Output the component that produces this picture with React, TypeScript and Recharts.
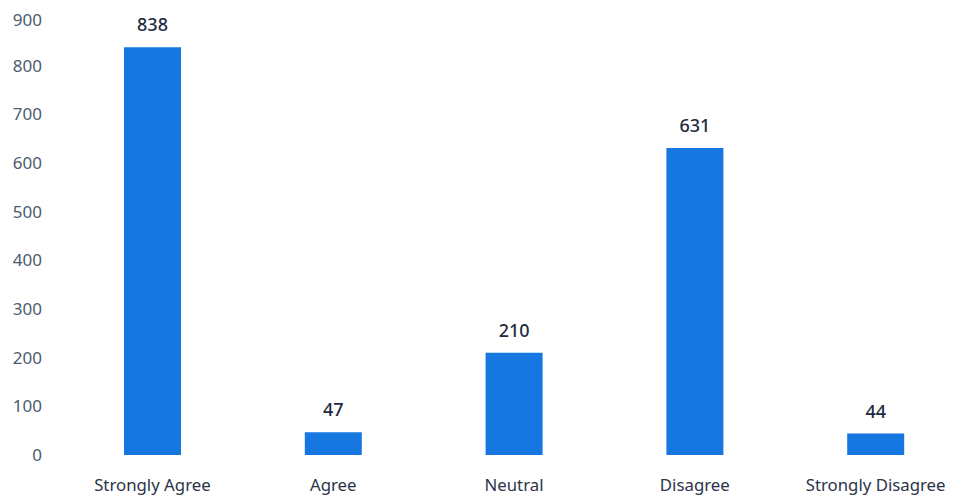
import React from "react";
import { BarChart, Bar, XAxis, YAxis, LabelList } from "recharts";

const categories = ["Strongly Agree", "Agree", "Neutral", "Disagree", "Strongly Disagree"];
const counts = [838, 47, 210, 631, 44];
const yTicks = [0, 100, 200, 300, 400, 500, 600, 700, 800, 900];

const data = categories.map((c, i) => ({ name: c, value: counts[i] }));

const FONT = "'Noto Sans', sans-serif";

export default function App() {
  return (
    <div style={{ width: 948, height: 492, overflow: "hidden", background: "#fff" }}>
      <BarChart
        width={968}
        height={492}
        data={data}
        margin={{ top: 9, right: 10, bottom: 15, left: 0 }}
      >
        <XAxis
          dataKey="name"
          axisLine={false}
          tickLine={false}
          tickMargin={18}
          interval={0}
          tick={{ fill: "#2b3447", fontSize: 16.8, fontFamily: FONT }}
        />
        <YAxis
          width={54}
          domain={[0, 900]}
          ticks={yTicks}
          axisLine={false}
          tickLine={false}
          tickMargin={14}
          tick={{ fill: "#4d5b70", fontSize: 17, fontFamily: FONT }}
        />
        <Bar dataKey="value" fill="#1677e0" barSize={57} isAnimationActive={false}>
          <LabelList
            dataKey="value"
            position="top"
            offset={16}
            style={{ fill: "#1f2a40", fontSize: 18, fontFamily: FONT, fontWeight: 500 }}
          />
        </Bar>
      </BarChart>
    </div>
  );
}
